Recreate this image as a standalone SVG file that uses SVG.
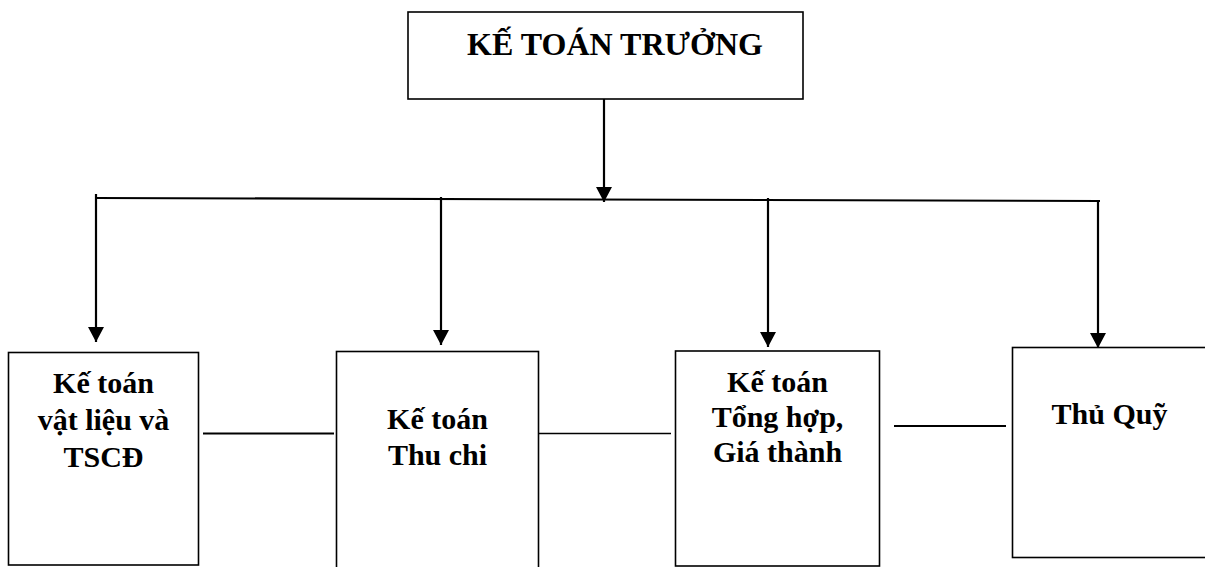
<svg xmlns="http://www.w3.org/2000/svg" width="1205" height="567" viewBox="0 0 1205 567">
  <style>
    .box { fill: #ffffff; stroke: #000000; stroke-width: 1.6; }
    .wire { fill: none; stroke: #000000; stroke-width: 2.2; }
    .thin { fill: none; stroke: #000000; stroke-width: 1.6; }
    .lbl { font-family: "Liberation Serif", "Times New Roman", serif; font-weight: bold; font-size: 30px; fill: #000000; text-anchor: middle; }
    .title { font-size: 32px; }
  </style>
  <defs>
    <marker id="arrow" markerUnits="userSpaceOnUse" markerWidth="16" markerHeight="16" refX="15" refY="8" orient="auto">
      <path d="M0,0 L15,8 L0,16 z" fill="#000000"/>
    </marker>
  </defs>
  <rect width="1205" height="567" fill="#ffffff"/>

  <!-- connectors -->
  <g id="connectors">
    <line class="wire" x1="604" y1="99" x2="604" y2="202" marker-end="url(#arrow)"/>
    <line class="wire" x1="96" y1="198" x2="1100" y2="201"/>
    <line class="wire" x1="96" y1="194" x2="96" y2="342" marker-end="url(#arrow)"/>
    <line class="wire" x1="441" y1="197" x2="441" y2="345" marker-end="url(#arrow)"/>
    <line class="wire" x1="768" y1="198" x2="768" y2="347" marker-end="url(#arrow)"/>
    <line class="wire" x1="1098" y1="200" x2="1098" y2="348" marker-end="url(#arrow)"/>
    <line class="wire" x1="203" y1="433.5" x2="334" y2="433.5"/>
    <line class="thin" x1="539" y1="433.5" x2="671" y2="433.5"/>
    <line class="wire" x1="894" y1="426" x2="1006" y2="426"/>
  </g>

  <g id="ke-toan-truong">
    <rect class="box" x="408" y="12" width="395" height="87"/>
    <text class="lbl title" x="615" y="55">KẾ TOÁN TRƯỞNG</text>
  </g>

  <g id="ke-toan-vat-lieu">
    <rect class="box" x="8.5" y="352.5" width="190" height="212.5"/>
    <text class="lbl" x="103.5" y="393">Kế toán</text>
    <text class="lbl" x="103.5" y="430">vật liệu và</text>
    <text class="lbl" x="103.5" y="467">TSCĐ</text>
  </g>

  <g id="ke-toan-thu-chi">
    <rect class="box" x="336.5" y="351.5" width="202" height="225"/>
    <text class="lbl" x="437.5" y="429">Kế toán</text>
    <text class="lbl" x="437.5" y="465">Thu chi</text>
  </g>

  <g id="ke-toan-tong-hop">
    <rect class="box" x="675.5" y="351" width="204" height="215"/>
    <text class="lbl" x="777.5" y="392">Kế toán</text>
    <text class="lbl" x="777.5" y="427">Tổng hợp,</text>
    <text class="lbl" x="777.5" y="462">Giá thành</text>
  </g>

  <g id="thu-quy">
    <rect class="box" x="1012.5" y="347.5" width="196" height="210"/>
    <text class="lbl" x="1109.5" y="424">Thủ Quỹ</text>
  </g>
</svg>
